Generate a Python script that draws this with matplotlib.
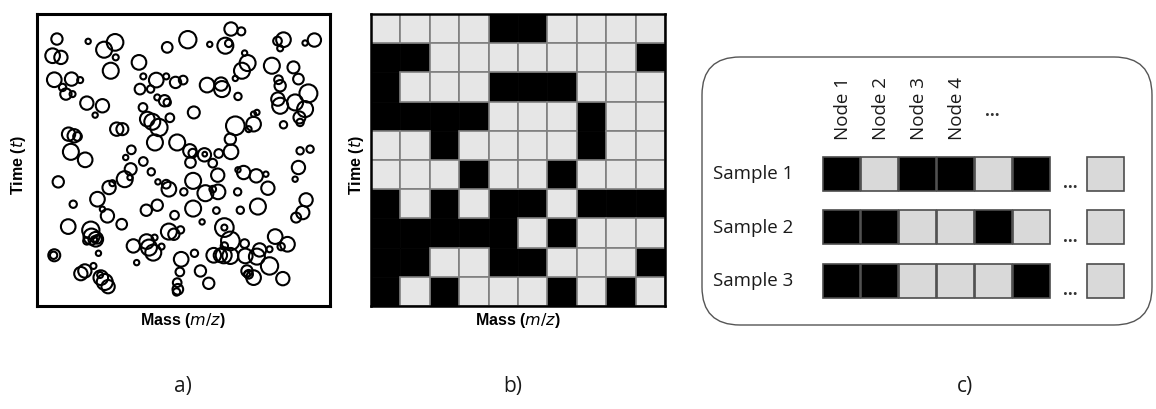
import numpy as np
import matplotlib.pyplot as plt
from matplotlib.patches import Circle, Rectangle, FancyBboxPatch

# panel a: peaks (x, y, radius), arbitrary units
peak_x = [168, 262, 310, 343, 500, 562, 628, 692, 723, 675, 685, 832, 850, 840, 915, 943,
          155, 180, 345, 330, 415, 733, 742, 725, 815, 880, 160, 212, 238, 185, 195, 215,
          428, 467, 497, 525, 548, 620, 662, 665, 705, 835, 840, 895, 925, 418, 450, 470,
          492, 500, 713, 258, 305, 283, 427, 580, 833, 840, 885, 915, 770, 760, 440, 455,
          475, 508, 705, 745, 760, 898, 900, 850, 348, 365, 203, 220, 230, 463, 530, 690,
          210, 253, 375, 392, 568, 577, 612, 613, 637, 655, 692, 900, 930, 428, 390, 372,
          388, 570, 452, 713, 730, 768, 797, 652, 895, 885, 172, 325, 335, 472, 497, 505,
          578, 550, 615, 637, 653, 712, 803, 918, 290, 217, 305, 320, 363, 437, 470, 522,
          578, 648, 720, 773, 908, 888, 202, 605, 672, 672, 270, 272, 285, 290, 280, 293,
          258, 398, 438, 445, 462, 458, 483, 505, 520, 540, 690, 672, 733, 825, 862, 843,
          778, 808, 160, 158, 582, 640, 660, 670, 690, 735, 770, 808, 542, 408, 240, 252,
          278, 300, 312, 322, 298, 538, 530, 532, 528, 600, 625, 740, 745, 760, 740, 848]
peak_y = [120, 127, 152, 130, 145, 122, 136, 90, 97, 140, 133, 126, 122, 148, 132, 123,
          170, 175, 175, 215, 190, 162, 192, 215, 200, 205, 242, 240, 243, 265, 285, 285,
          232, 243, 232, 250, 243, 258, 255, 270, 238, 242, 260, 240, 283, 270, 270, 295,
          305, 310, 292, 312, 320, 348, 325, 340, 300, 320, 310, 330, 340, 345, 360, 368,
          385, 356, 380, 390, 375, 355, 370, 377, 390, 390, 405, 410, 412, 430, 430, 420,
          458, 482, 475, 452, 455, 462, 467, 465, 492, 463, 458, 455, 450, 487, 510, 540,
          535, 490, 518, 512, 520, 530, 525, 528, 505, 540, 548, 565, 552, 548, 555, 570,
          545, 578, 582, 570, 578, 578, 567, 602, 600, 615, 630, 650, 675, 633, 618, 648,
          628, 634, 633, 622, 640, 655, 682, 668, 685, 685, 693, 712, 720, 720, 720, 762,
          725, 740, 727, 745, 715, 760, 742, 697, 705, 692, 725, 740, 733, 712, 735, 742,
          752, 750, 768, 768, 762, 768, 768, 768, 770, 770, 772, 800, 780, 790, 823, 815,
          800, 835, 848, 862, 827, 818, 850, 870, 878, 815, 852, 815, 825, 835, 825, 838]
peak_r = [17, 8, 24, 25, 16, 26, 8, 20, 12, 24, 11, 13, 22, 9, 8, 20,
          22, 20, 9, 24, 22, 8, 24, 24, 24, 18, 22, 20, 9, 11, 17, 9,
          9, 22, 9, 17, 13, 22, 20, 24, 8, 13, 17, 16, 27, 16, 11, 9,
          17, 11, 11, 20, 20, 8, 13, 18, 20, 24, 24, 24, 8, 8, 22, 24,
          26, 13, 28, 9, 22, 18, 11, 11, 20, 18, 20, 20, 13, 24, 24, 17,
          24, 22, 8, 13, 20, 13, 20, 7, 13, 13, 22, 11, 11, 13, 18, 24,
          8, 16, 11, 8, 20, 20, 8, 20, 20, 8, 17, 20, 9, 8, 13, 22,
          24, 11, 24, 10, 22, 11, 20, 20, 22, 11, 8, 20, 16, 17, 17, 13,
          24, 10, 11, 24, 20, 15, 22, 8, 28, 9, 26, 24, 22, 13, 9, 8,
          11, 20, 22, 24, 9, 24, 9, 24, 17, 11, 28, 11, 13, 22, 22, 11,
          20, 9, 18, 11, 11, 22, 20, 24, 24, 22, 24, 26, 22, 8, 20, 20,
          9, 22, 24, 20, 9, 13, 13, 16, 11, 17, 17, 17, 13, 22, 9, 20]

# panel b: binned presence (1 = black) on a 10 x 10 grid, top row first
grid_b = [[0, 0, 0, 0, 1, 1, 0, 0, 0, 0],
          [1, 1, 0, 0, 0, 0, 0, 0, 0, 1],
          [1, 0, 0, 0, 1, 1, 1, 0, 0, 0],
          [1, 1, 1, 1, 0, 0, 0, 1, 0, 0],
          [0, 0, 1, 0, 0, 0, 0, 1, 0, 0],
          [0, 0, 0, 1, 0, 0, 1, 0, 0, 0],
          [1, 0, 1, 0, 1, 1, 0, 1, 1, 1],
          [1, 1, 1, 1, 1, 0, 1, 0, 0, 0],
          [1, 1, 0, 0, 1, 1, 0, 0, 0, 1],
          [1, 0, 1, 0, 0, 0, 1, 0, 1, 0]]

# panel c: samples x nodes
samples = ['Sample 1', 'Sample 2', 'Sample 3']
nodes = ['Node 1', 'Node 2', 'Node 3', 'Node 4']
sample_bits = [[1, 0, 1, 1, 0, 1],
               [1, 1, 0, 0, 1, 0],
               [1, 1, 0, 0, 0, 1]]
last_bits = [0, 0, 0]

GREY = '#e6e6e6'
W, H = 1156, 410

fig = plt.figure(figsize=(W / 100, H / 100), dpi=100)
bold = dict(family='Liberation Sans', fontsize=11.5, fontweight='bold')


def px_axes(x0, y0, x1, y1):
    return fig.add_axes([x0 / W, 1 - y1 / H, (x1 - x0) / W, (y1 - y0) / H])


# a) circles
ax = px_axes(37, 15, 330, 307)
for x, y, r in zip(peak_x, peak_y, peak_r):
    ax.add_patch(Circle((x, y), r, fill=False, ec='black', lw=1.5))
ax.set_xlim(108, 990)
ax.set_ylim(920, 45)
ax.set_xticks([])
ax.set_yticks([])
for s in ax.spines.values():
    s.set_linewidth(2.2)

# b) grid
bx = px_axes(371, 15, 665, 307)
nr, nc = len(grid_b), len(grid_b[0])
for i, row in enumerate(grid_b):
    for j, v in enumerate(row):
        if v:
            bx.add_patch(Rectangle((j, i), 1, 1, fc='black', ec='black', lw=0.5))
for i, row in enumerate(grid_b):
    for j, v in enumerate(row):
        if not v:
            bx.add_patch(Rectangle((j, i), 1, 1, fc=GREY, ec='#7f7f7f', lw=1.2))
bx.set_xlim(0, nc)
bx.set_ylim(nr, 0)
bx.set_xticks([])
bx.set_yticks([])
for s in bx.spines.values():
    s.set_linewidth(1.8)

# overlay in pixel units for labels and panel c
ov = fig.add_axes([0, 0, 1, 1])
ov.set_xlim(0, W)
ov.set_ylim(H, 0)
ov.axis('off')

for cx in (183, 518):
    ov.text(cx, 321, 'Mass ($\\mathbf{\\it{m/z}}$)', ha='center', va='center', **bold)
for cx in (18, 356):
    ov.text(cx, 165, 'Time ($\\mathbf{\\it{t}}$)', ha='center', va='center', rotation=90, **bold)

ov.add_patch(FancyBboxPatch((702, 58), 450, 268,
                            boxstyle='round,pad=0,rounding_size=38',
                            fc='white', ec='#555555', lw=1.0))

cfont = dict(family=['Open Sans', 'DejaVu Sans'], fontsize=13.5, color='#1a1a1a')
dots = dict(family=['Open Sans', 'DejaVu Sans'], fontsize=12, color='#333333',
            fontweight='bold')
col0, step, sq_w = 823, 38, 36.5
row0, rstep, sq_h = 157.5, 53.5, 34
for k, (name, bits) in enumerate(zip(samples, sample_bits)):
    y = row0 + k * rstep
    ov.text(713, y + sq_h / 2, name, ha='left', va='center', **cfont)
    for j, v in enumerate(bits):
        ov.add_patch(Rectangle((col0 + j * step, y), sq_w, sq_h,
                               fc='black' if v else '#d9d9d9', ec='#4d4d4d', lw=1.2))
    ov.text(1070, y + 31, '...', ha='center', va='baseline', **dots)
    ov.add_patch(Rectangle((1087, y), sq_w, sq_h,
                           fc='black' if last_bits[k] else '#d9d9d9', ec='#4d4d4d', lw=1.2))

for j, name in enumerate(nodes):
    ov.text(col0 + j * step + 20, 140, name, ha='center', va='bottom', rotation=90, **cfont)
ov.text(992, 116, '...', ha='center', va='baseline', **dots)

for lab, cx in (('a)', 183), ('b)', 513), ('c)', 965)):
    ov.text(cx, 387, lab, ha='center', va='center', fontsize=15,
            family=['Open Sans', 'DejaVu Sans'], color='#1a1a1a')

fig.savefig('out.png', dpi=100)
